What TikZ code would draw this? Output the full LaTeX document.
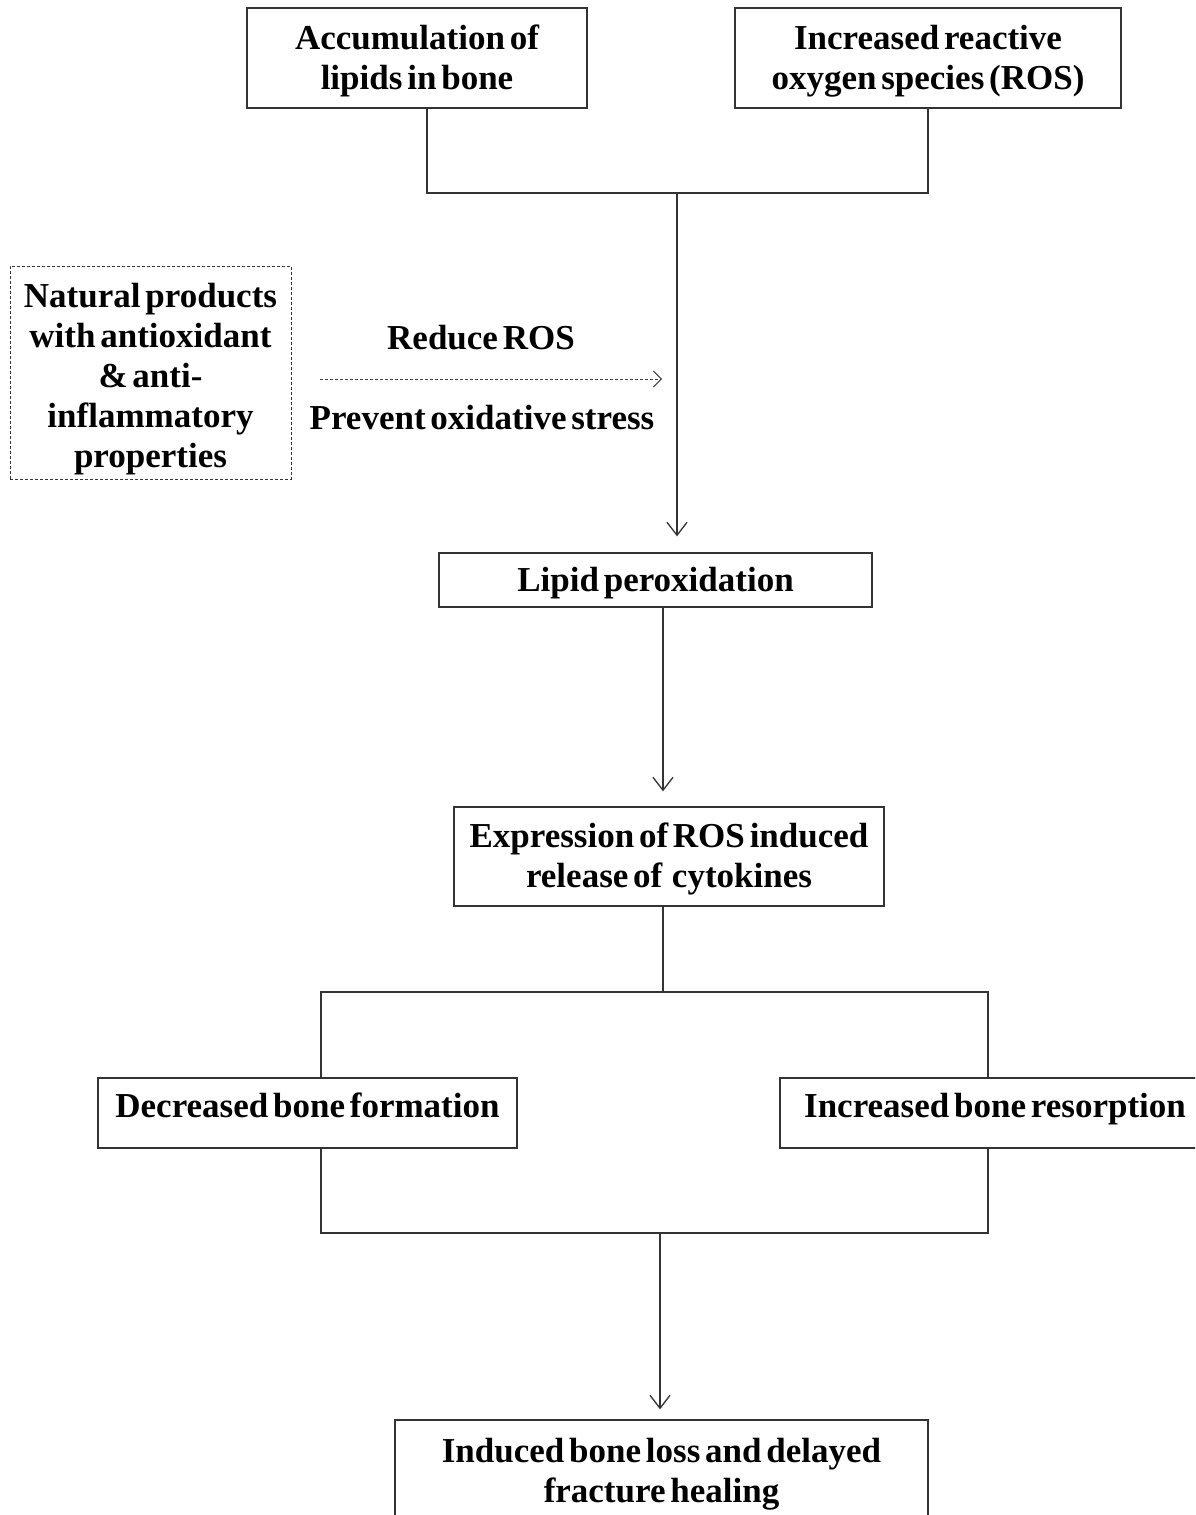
\documentclass[tikz,border=0pt]{standalone}
\usepackage{fontspec}
\setmainfont[WordSpace=0.55]{Liberation Serif}
\usetikzlibrary{arrows.meta}
\newcommand{\mylines}[2]{\raisebox{#1}[\height][\depth]{\begin{tabular}{@{}c@{}}#2\end{tabular}}}
\begin{document}
\begin{tikzpicture}[x=1pt,y=-1pt,
  every node/.style={font=\fontsize{35}{40}\selectfont\bfseries, align=center, inner sep=0pt},
  box/.style={draw=black!80, line width=1.3pt, rectangle},
  dbox/.style={draw=black!80, line width=1pt, dash pattern=on 3pt off 2pt, rectangle},
  link/.style={draw=black!80, line width=1.3pt},
  arr/.style={link, -{Straight Barb[length=13pt,width=20pt,line width=1.3pt]}},
  darr/.style={draw=black!75, line width=1pt, dash pattern=on 3pt off 2pt, -{Straight Barb[length=8pt,width=16pt,line width=1pt]}}]
\useasboundingbox (0,0) rectangle (1195,1515);
\clip (0,0) rectangle (1195,1515);
% boxes
\node[box, minimum width=340pt, minimum height=100pt] (A) at (417,58) {\mylines{-3pt}{Accumulation of\\lipids in bone}};
\node[box, minimum width=386pt, minimum height=100pt] (B) at (928,58) {\mylines{-3pt}{Increased reactive\\oxygen species (ROS)}};
\node[dbox, minimum width=281pt, minimum height=213pt] (N) at (150.5,372.5) {\mylines{-7pt}{Natural products\\with antioxidant\\\& anti-\\inflammatory\\properties}};
\node[box, minimum width=433pt, minimum height=54pt] (L) at (655.5,580) {\mylines{-3pt}{Lipid peroxidation}};
\node[box, minimum width=430pt, minimum height=99pt] (E) at (669,856.5) {\mylines{-3pt}{Expression of ROS induced\\release of~~cytokines}};
\node[box, minimum width=419pt, minimum height=70pt] (D) at (307.5,1113) {\mylines{4pt}{Decreased bone formation}};
\node[box, minimum width=430pt, minimum height=70pt] (I) at (995,1113) {\mylines{4pt}{Increased bone resorption}};
\node[box, minimum width=533pt, minimum height=120pt] (F) at (661.5,1480) {\mylines{6pt}{Induced bone loss and delayed\\fracture healing}};
% labels of dashed arrow
\node (r1) at (481,338) {Reduce ROS};
\node (r2) at (482,418) {Prevent oxidative stress};
% junction coordinates
\coordinate (j1) at (427,193);
\coordinate (j2) at (928,193);
\coordinate (j3) at (677,193);
\coordinate (x1) at (663,700);
\coordinate (j4) at (663,992);
\coordinate (j5) at (321,992);
\coordinate (j6) at (988,992);
\coordinate (j7) at (321,1233);
\coordinate (j8) at (988,1233);
\coordinate (j9) at (660,1233);
\coordinate (d1) at (320,379);
\coordinate (d2) at (662,379);
% connectors
\draw[link] (A.south -| j1) |- (j2) -- (B.south -| j2);
\draw[arr, shorten >=16pt] (j3) -- (j3 |- L.north);
\draw[darr] (d1) -- (d2);
\draw[arr, shorten >=15pt] (L.south -| x1) -- (E.north -| x1);
\draw[link] (E.south -| j4) -- (j4);
\draw[link] (D.north -| j5) |- (j6) -- (I.north -| j6);
\draw[link] (D.south -| j7) |- (j8) -- (I.south -| j8);
\draw[arr, shorten >=10pt] (j9) -- (F.north -| j9);
\end{tikzpicture}
\end{document}
